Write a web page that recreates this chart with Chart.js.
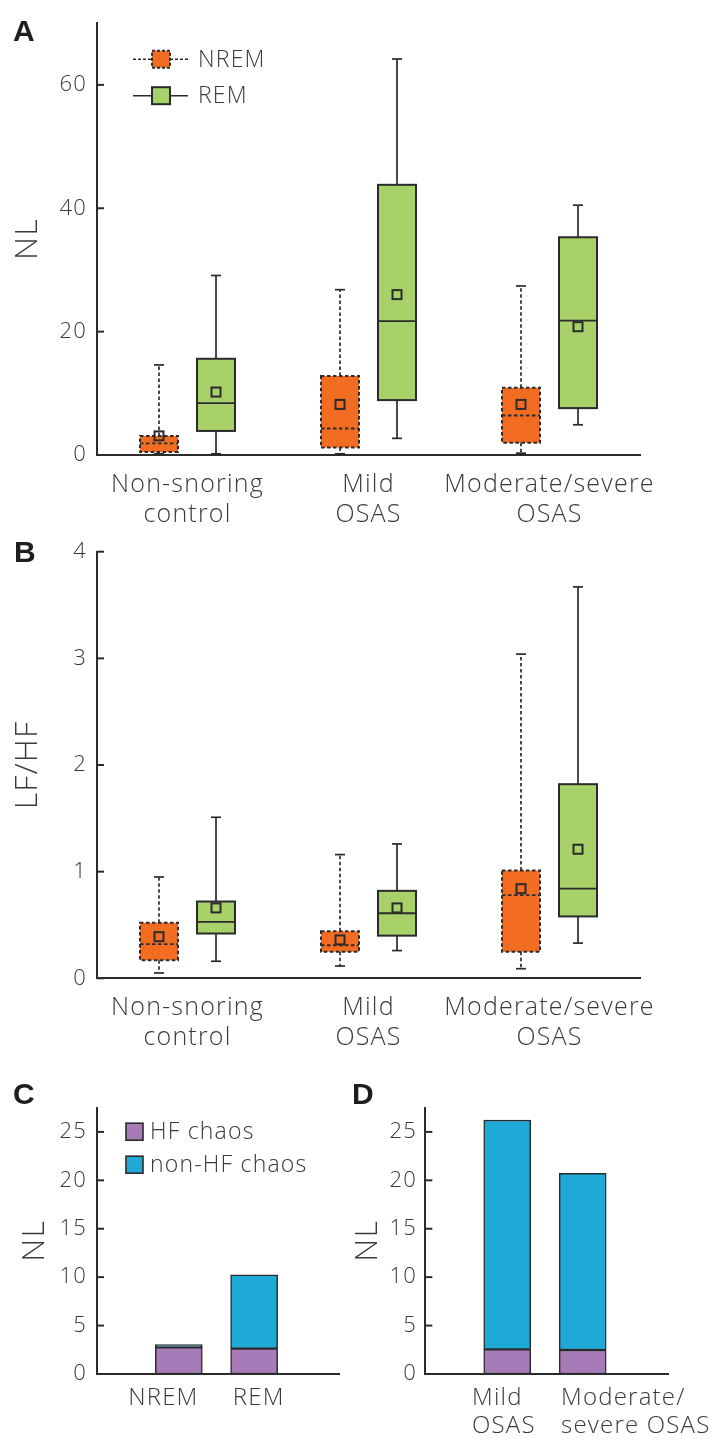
<!DOCTYPE html>
<html><head><meta charset="utf-8">
<script src="https://cdn.jsdelivr.net/npm/chart.js@4"></script>
<style>
html,body{margin:0;padding:0;background:#fff;}
#wrap{position:relative;width:724px;height:1440px;overflow:hidden;background:#fff;}
.pl{position:absolute;font:700 30px "Liberation Sans",Arial,sans-serif;color:#1e1e1e;line-height:30px;}
canvas{position:absolute;}
</style></head><body>
<div id="wrap">
<canvas id="cA" style="left:0;top:0"></canvas>
<canvas id="cB" style="left:0;top:520px"></canvas>
<canvas id="cC" style="left:0;top:1070px"></canvas>
<canvas id="cD" style="left:340px;top:1070px"></canvas>
<div class="pl" style="left:13px;top:16px">A</div>
<div class="pl" style="left:14px;top:537px">B</div>
<div class="pl" style="left:13px;top:1079px">C</div>
<div class="pl" style="left:352px;top:1079px">D</div>
</div>
<script>
// ---------- data ----------
const groupLabels = [['Non-snoring','control'],['Mild','OSAS'],['Moderate/severe','OSAS']];
const seriesNames = ['NREM','REM'];

// Panel A: NL box plots
const aNremLow  = [0.2, 0.2, 0.3];
const aNremQ1   = [0.5, 1.2, 2.0];
const aNremMed  = [1.9, 4.3, 6.4];
const aNremQ3   = [3.1, 12.8, 10.9];
const aNremHigh = [14.6, 26.8, 27.4];
const aNremMean = [3.1, 8.2, 8.2];
const aRemLow   = [0.2, 2.7, 4.9];
const aRemQ1    = [3.9, 8.9, 7.6];
const aRemMed   = [8.4, 21.7, 21.8];
const aRemQ3    = [15.6, 43.8, 35.3];
const aRemHigh  = [29.1, 64.2, 40.5];
const aRemMean  = [10.2, 26.0, 20.8];
const aTicks = [0, 20, 40, 60];

// Panel B: LF/HF box plots
const bNremLow  = [0.05, 0.115, 0.09];
const bNremQ1   = [0.17, 0.25, 0.25];
const bNremMed  = [0.32, 0.31, 0.78];
const bNremQ3   = [0.52, 0.44, 1.01];
const bNremHigh = [0.95, 1.16, 3.04];
const bNremMean = [0.39, 0.36, 0.84];
const bRemLow   = [0.16, 0.26, 0.33];
const bRemQ1    = [0.42, 0.40, 0.58];
const bRemMed   = [0.53, 0.61, 0.84];
const bRemQ3    = [0.72, 0.82, 1.82];
const bRemHigh  = [1.51, 1.26, 3.67];
const bRemMean  = [0.66, 0.66, 1.21];
const bTicks = [0, 1, 2, 3, 4];

// Panel C / D: stacked NL
const chaosNames = ['HF chaos','non-HF chaos'];
const cLabels = ['NREM','REM'];
const cHF    = [2.75, 2.62];
const cNonHF = [0.28, 7.62];
const dLabels = [['Mild','OSAS'],['Moderate/','severe OSAS']];
const dHF    = [2.55, 2.48];
const dNonHF = [23.68, 18.24];
const cdTicks = [0, 5, 10, 15, 20, 25];

// ---------- style ----------
const FONT = "'Open Sans', Lato, sans-serif";
const SPACING = '1.2px';
const INK = '#2b2b2b';
const TXT = '#3a3a3a';
const ORANGE = '#F26C22';
const GREEN = '#A8D16A';
const PURPLE = '#A67BB7';
const BLUE = '#1EA9D7';
Chart.defaults.font.family = FONT;
Chart.defaults.font.weight = '300';
Chart.defaults.color = TXT;
Chart.defaults.animation = false;

function setupCanvas(id, w, h){
  const c = document.getElementById(id);
  c.width = w; c.height = h; c.style.width = w+'px'; c.style.height = h+'px';
  return c;
}

const spacing = {
  id:'spacing',
  beforeLayout(chart){ chart.ctx.letterSpacing = SPACING; },
  beforeDraw(chart){ chart.ctx.letterSpacing = SPACING; }
};

const inwardTicks = {
  id:'inwardTicks',
  afterDraw(chart){
    const {ctx, chartArea:ca} = chart; const ys = chart.scales.y;
    ctx.save(); ctx.strokeStyle = INK; ctx.lineWidth = 2;
    ys.ticks.forEach(t => {
      const py = ys.getPixelForValue(t.value);
      ctx.beginPath(); ctx.moveTo(ca.left, py); ctx.lineTo(ca.left + 7, py); ctx.stroke();
    });
    ctx.restore();
  }
};

function boxPlugin(series){
  return {
    id:'boxes',
    afterDatasetsDraw(chart){
      const ctx = chart.ctx, ys = chart.scales.y;
      series.forEach((s, di) => {
        const meta = chart.getDatasetMeta(di);
        meta.data.forEach((el, i) => {
          const {x, width} = el.getProps(['x','width'], true);
          const l = x - width/2, r = x + width/2;
          const p = v => ys.getPixelForValue(v);
          const pl = p(s.low[i]), pq1 = p(s.q1[i]), pm = p(s.med[i]), pq3 = p(s.q3[i]), ph = p(s.high[i]), pmean = p(s.mean[i]);
          const line = (x0,y0,x1,y1) => { ctx.beginPath(); ctx.moveTo(x0,y0); ctx.lineTo(x1,y1); ctx.stroke(); };
          ctx.save();
          ctx.strokeStyle = INK;
          ctx.lineWidth = 1.7;
          ctx.setLineDash(s.dashed ? [3.5,2.5] : []);
          line(x, pq3, x, ph);
          line(x, pq1, x, pl);
          ctx.setLineDash([]);
          line(x-5, ph, x+5, ph);
          line(x-5, pl, x+5, pl);
          ctx.setLineDash(s.dashed ? [3.5,2.5] : []);
          ctx.lineWidth = 2;
          ctx.strokeRect(l, pq3, width, pq1 - pq3);
          ctx.lineWidth = 1.8;
          line(l, pm, r, pm);
          ctx.setLineDash([]);
          ctx.lineWidth = 2;
          ctx.strokeRect(x-4.5, pmean-4.5, 9, 9);
          ctx.restore();
        });
      });
    }
  };
}

const legendA = {
  id:'legendA',
  afterDraw(chart){
    const {ctx, chartArea:ca} = chart;
    const rows = [{label:seriesNames[0], color:ORANGE, dash:[3,2]},{label:seriesNames[1], color:GREEN, dash:[]}];
    rows.forEach((r,k) => {
      const cy = ca.top + 36 + k*36.5;
      const x0 = ca.left + 36, x1 = ca.left + 91, bx = ca.left + 55;
      ctx.save();
      ctx.strokeStyle = INK; ctx.lineWidth = 1.6; ctx.setLineDash(r.dash);
      ctx.beginPath(); ctx.moveTo(x0, cy); ctx.lineTo(bx, cy); ctx.moveTo(bx+18, cy); ctx.lineTo(x1, cy); ctx.stroke();
      ctx.fillStyle = r.color; ctx.fillRect(bx, cy-8.5, 18, 17);
      ctx.lineWidth = 2; ctx.strokeRect(bx, cy-8.5, 18, 17);
      ctx.setLineDash([]);
      ctx.letterSpacing = SPACING;
      ctx.fillStyle = TXT; ctx.font = '300 23px ' + FONT; ctx.textBaseline = 'middle'; ctx.textAlign = 'left';
      ctx.fillText(r.label, ca.left + 101, cy + 1);
      ctx.restore();
    });
  }
};

const legendC = {
  id:'legendC',
  afterDraw(chart){
    const {ctx, chartArea:ca} = chart;
    const rows = [{label:chaosNames[0], color:PURPLE},{label:chaosNames[1], color:BLUE}];
    rows.forEach((r,k) => {
      const cy = ca.top + 24 + k*33;
      const bx = ca.left + 29;
      ctx.save();
      ctx.fillStyle = r.color; ctx.fillRect(bx, cy-8.5, 17, 17);
      ctx.strokeStyle = INK; ctx.lineWidth = 1.6; ctx.strokeRect(bx, cy-8.5, 17, 17);
      ctx.letterSpacing = SPACING;
      ctx.fillStyle = TXT; ctx.font = '300 23px ' + FONT; ctx.textBaseline = 'middle'; ctx.textAlign = 'left';
      ctx.fillText(r.label, ca.left + 53, cy + 1);
      ctx.restore();
    });
  }
};

function yAxis(opts){
  return {
    min: 0, max: opts.max,
    ticks: {stepSize: opts.step, padding: opts.tickPad, font:{size:22, weight:'300'}, color: TXT},
    grid: {display:false, drawTicks:false},
    border: {display:true, color:INK, width:2},
    title: {display:true, text:opts.title, color:TXT, font:{size:32, weight:'300', lineHeight:1.2}, padding:{top:opts.titlePad, bottom:0}},
    afterBuildTicks: s => { s.ticks = opts.ticks.map(v => ({value:v})); },
    afterFit: s => { s.width = opts.width; }
  };
}

function boxChart(id, top, h, chartTop, chartBottom, yopts, series){
  setupCanvas(id, 724, h);
  const mk = (s) => s.q1.map((v,i) => [v, s.q3[i]]);
  return new Chart(document.getElementById(id), {
    type:'bar',
    data:{
      labels: groupLabels,
      datasets: series.map((s,k) => ({
        label: seriesNames[k], data: mk(s), backgroundColor: s.color, borderWidth:0,
        categoryPercentage:0.63, barPercentage:0.667
      }))
    },
    options:{
      responsive:false, devicePixelRatio: window.devicePixelRatio || 1,
      layout:{padding:{left:0, top:chartTop, right:724-640, bottom:0}},
      plugins:{legend:{display:false}, tooltip:{enabled:false}},
      scales:{
        x:{
          ticks:{font:{size:25, weight:'300', lineHeight:1.2}, color:TXT, padding:15, maxRotation:0, autoSkip:false},
          grid:{display:false, drawTicks:false},
          border:{display:true, color:INK, width:2},
          afterFit: s => { s.height = h - chartBottom; s.paddingLeft = 0; s.paddingRight = 0; }
        },
        y: yAxis(yopts)
      }
    },
    plugins:[spacing, boxPlugin(series), inwardTicks].concat(id === 'cA' ? [legendA] : [])
  });
}

boxChart('cA', 0, 530, 23, 455,
  {max:70, step:20, tickPad:10, title:'NL', titlePad:9, width:97, ticks:aTicks},
  [
    {low:aNremLow, q1:aNremQ1, med:aNremMed, q3:aNremQ3, high:aNremHigh, mean:aNremMean, color:ORANGE, dashed:true},
    {low:aRemLow, q1:aRemQ1, med:aRemMed, q3:aRemQ3, high:aRemHigh, mean:aRemMean, color:GREEN, dashed:false}
  ]);

boxChart('cB', 520, 540, 31.7, 458.3,
  {max:4, step:1, tickPad:10, title:'LF/HF', titlePad:9, width:97, ticks:bTicks},
  [
    {low:bNremLow, q1:bNremQ1, med:bNremMed, q3:bNremQ3, high:bNremHigh, mean:bNremMean, color:ORANGE, dashed:true},
    {low:bRemLow, q1:bRemQ1, med:bRemMed, q3:bRemQ3, high:bRemHigh, mean:bRemMean, color:GREEN, dashed:false}
  ]);

// C & D: stacked bars on a linear index axis
const X_MIN = -0.086, X_MAX = 3.14;
function stackChart(id, w, yWidth, rightPad, titlePad, tickPad, hf, nonhf, labels, labelPos, align, extraPlugins){
  setupCanvas(id, w, 370);
  const base = {backgroundColor:null, borderColor:INK, borderWidth:1.5, borderSkipped:false, barThickness:47, grouped:false};
  return new Chart(document.getElementById(id), {
    type:'bar',
    data:{
      datasets:[
        Object.assign({}, base, {label:chaosNames[0], backgroundColor:PURPLE, data: hf.map((v,i)=>({x:i+1, y:[0, v]}))}),
        Object.assign({}, base, {label:chaosNames[1], backgroundColor:BLUE, data: hf.map((v,i)=>({x:i+1, y:[v, v + nonhf[i]]}))})
      ]
    },
    options:{
      responsive:false,
      layout:{padding:{left:0, top:37.7, right:rightPad, bottom:0}},
      plugins:{legend:{display:false}, tooltip:{enabled:false}},
      scales:{
        x:{
          type:'linear', min:X_MIN, max:X_MAX, offset:false, bounds:'data',
          ticks:{font:{size:24, weight:'300', lineHeight:1.17}, color:TXT, padding:10, maxRotation:0, autoSkip:false, align:align,
                 callback:(v,i) => labels[i]},
          afterBuildTicks: s => { s.ticks = labelPos.map(v => ({value:v})); },
          grid:{display:false, drawTicks:false},
          border:{display:true, color:INK, width:2},
          afterFit: s => { s.height = 370 - 304; s.paddingLeft = 0; s.paddingRight = 0; }
        },
        y: yAxis({max:27.5, step:5, tickPad:tickPad, title:'NL', titlePad:titlePad, width:yWidth, ticks:cdTicks})
      }
    },
    plugins:[spacing, inwardTicks].concat(extraPlugins)
  });
}

stackChart('cC', 340, 97, 0, 15.5, 10, cHF, cNonHF, cLabels, [0.795, 2.061], 'center', [legendC]);
stackChart('cD', 400, 85.3, 400-328.7, 8.5, 8.3, dHF, dNonHF, dLabels, [0.533, 1.713], 'start', []);
</script>
</body></html>
